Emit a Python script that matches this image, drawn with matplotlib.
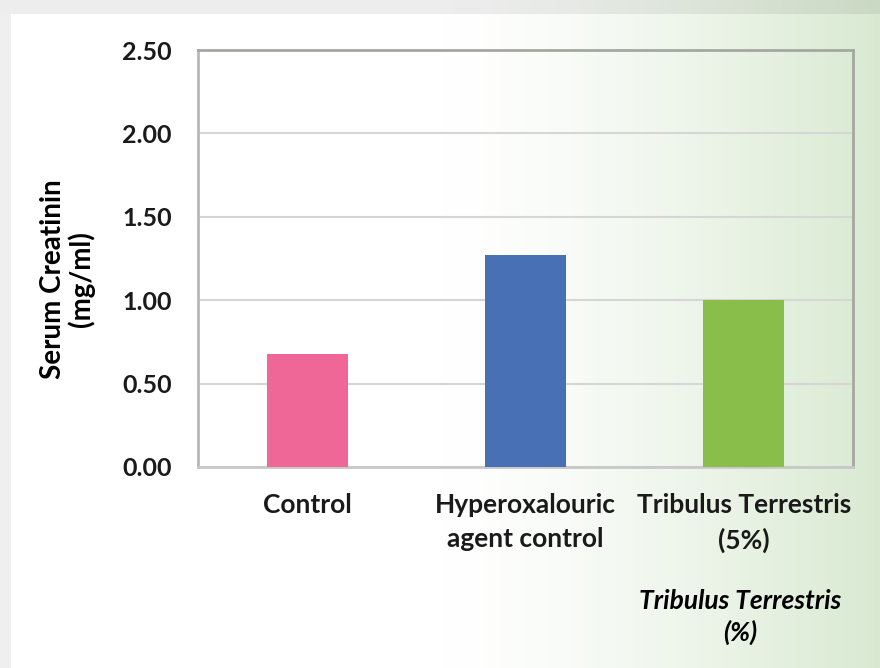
import numpy as np
import matplotlib
matplotlib.use("Agg")
import matplotlib.pyplot as plt

categories = ["Control", "Hyperoxalouric\nagent control", "Tribulus Terrestris\n(5%)"]
values = [0.68, 1.27, 1.00]
colors = ["#EE6797", "#4870B4", "#89BE4B"]
yticks = [0.0, 0.5, 1.0, 1.5, 2.0, 2.5]
ylabel = "Serum Creatinin\n(mg/ml)"
xtitle = "Tribulus Terrestris\n(%)"

W, H = 880, 668
fig = plt.figure(figsize=(W / 100, H / 100), dpi=100)

# background card with gradient
bg = np.ones((H, W, 3))
xs = np.arange(W)
t = np.clip((xs - 440) / (W - 440), 0, 1) ** 1.4
end = np.array([0.85, 0.915, 0.82])
grad = 1 - t[:, None] * (1 - end)[None, :]
bg[:] = grad[None, :, :]
bg[:14, :, :] *= 0.93
bg[:, :11, :] = np.minimum(bg[:, :11, :], 0.94)
bax = fig.add_axes([0, 0, 1, 1], zorder=-10)
bax.imshow(bg, aspect="auto", extent=[0, W, H, 0], interpolation="bilinear")
bax.axis("off")

font = "Lato"
fw = "bold"
ax = fig.add_axes([198 / W, 1 - 467 / H, (853 - 198) / W, (467 - 50) / H])
ax.patch.set_alpha(0)
x = np.arange(len(categories))
ax.bar(x, values, width=0.37, color=colors, zorder=3)
ax.set_xlim(-0.5, len(categories) - 0.5)
ax.set_ylim(0, 2.5)
ax.set_yticks(yticks)
ax.set_yticklabels([f"{v:.2f}" for v in yticks], fontsize=18, fontweight=fw, family=font)
ax.set_xticks(x)
ax.set_xticklabels(categories, fontsize=19, fontweight=fw, family=font, linespacing=1.5)
ax.tick_params(axis="both", length=0, colors="#1a1a1a")
ax.tick_params(axis="y", pad=19)
ax.tick_params(axis="x", pad=19)
ax.yaxis.grid(True, color="#d6d6d6", linewidth=1.5, zorder=0)
for s in ax.spines.values():
    s.set_color("#a3a8a0")
    s.set_linewidth(2)
ax.spines["bottom"].set_color("#c8c8c8")
ax.spines["left"].set_color("#b8b8b8")
ax.set_ylabel(ylabel, fontsize=20, fontweight=fw, family=font, linespacing=1.05)
ax.yaxis.set_label_coords(-0.157, 0.45)

fig.text(740 / W, 1 - 617 / H, xtitle, ha="center", va="center", fontsize=19,
         fontweight=fw, fontstyle="italic", family=font, linespacing=1.35)

fig.savefig("out.png", dpi=100)
